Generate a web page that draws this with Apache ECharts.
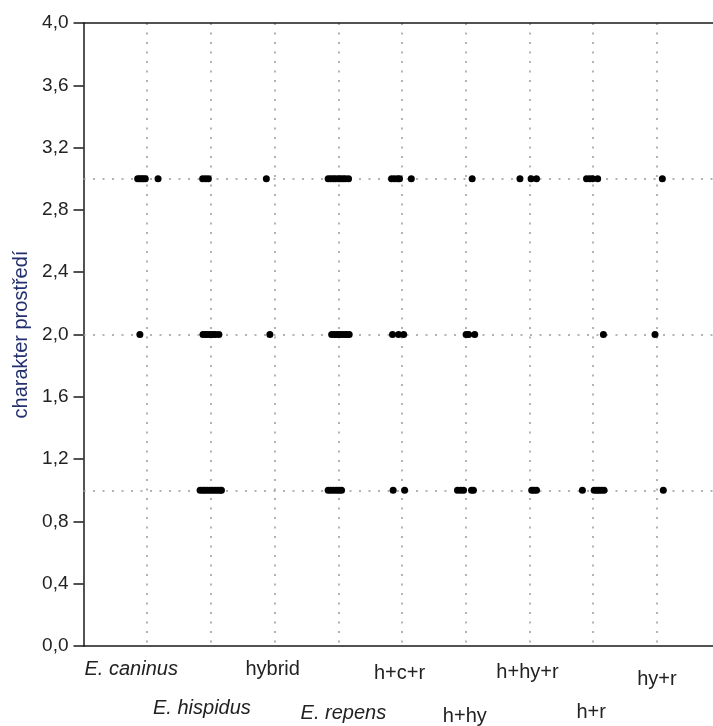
<!DOCTYPE html>
<html>
<head>
<meta charset="utf-8">
<script src="https://cdn.jsdelivr.net/npm/echarts@6/dist/echarts.min.js"></script>
<style>
  html, body { margin: 0; padding: 0; background: #fff; }
  #chart { width: 713px; height: 726px; }
</style>
</head>
<body>
<div id="chart"></div>
<script>
// Groups along the horizontal axis (column 1..9)
const categories = ['E. caninus', 'E. hispidus', 'hybrid', 'E. repens', 'h+c+r', 'h+hy', 'h+hy+r', 'h+r', 'hy+r'];
const italicNames = ['E. caninus', 'E. hispidus', 'E. repens'];

// Habitat character classes (reference lines)
const levels = [1, 2, 3];

// Per group: horizontal spread of the individual observations around the
// group's column, in column widths, for each habitat class.
const spreadAt3 = [
  [-0.15, -0.12, -0.09, -0.06, -0.03, 0.17],
  [-0.13, -0.085, -0.04],
  [-0.13],
  [-0.16, -0.12, -0.08, -0.045, 0, 0.035, 0.075, 0.11, 0.16],
  [-0.165, -0.12, -0.07, -0.04, 0.145],
  [0.10],
  [-0.15, 0.025, 0.11],
  [-0.105, -0.055, -0.01, 0.07],
  [0.085]
];
const spreadAt2 = [
  [-0.115],
  [-0.125, -0.085, -0.045, -0.005, 0.035, 0.07, 0.125],
  [-0.075],
  [-0.105, -0.065, -0.03, 0.01, 0.05, 0.09, 0.13, 0.17],
  [-0.15, -0.055, 0.025],
  [0.005, 0.045, 0.14],
  [],
  [0.16],
  [-0.03]
];
const spreadAt1 = [
  [],
  [-0.17, -0.13, -0.095, -0.055, -0.015, 0.025, 0.065, 0.105, 0.145, 0.165],
  [],
  [-0.16, -0.12, -0.075, -0.03, 0.01, 0.05],
  [-0.14, 0.04],
  [-0.13, -0.08, -0.035, 0.09, 0.12],
  [0.035, 0.07, 0.11],
  [-0.17, 0.015, 0.055, 0.09, 0.13, 0.17],
  [0.10]
];

// Vertical axis scale
const yMin = 0, yMax = 4, yStep = 0.4;
// Horizontal extent: the plot runs a little past the last column, to the page edge
const xMin = 0, xMax = 9.88;

// Build scatter points: column index + spread, habitat class
const spreadByLevel = { 1: spreadAt1, 2: spreadAt2, 3: spreadAt3 };
const points = [];
levels.forEach(function (lv) {
  spreadByLevel[lv].forEach(function (offsets, i) {
    offsets.forEach(function (o) { points.push([i + 1 + o, lv]); });
  });
});

// Staggered category label placement (line height, horizontal nudge)
const labelPlacement = [
  { lh: 42, dx: -16 }, { lh: 120, dx: -9 }, { lh: 42, dx: -2 },
  { lh: 130, dx: 5 },  { lh: 50, dx: -2.5 }, { lh: 136, dx: -1 },
  { lh: 49, dx: -2 },  { lh: 129, dx: -2 },  { lh: 62, dx: 0 }
];
const rich = {};
labelPlacement.forEach(function (p, i) {
  rich['c' + i] = {
    fontSize: 20,
    color: '#222',
    lineHeight: p.lh,
    fontStyle: italicNames.indexOf(categories[i]) >= 0 ? 'italic' : 'normal',
    padding: [0, p.dx < 0 ? -2 * p.dx : 0, 0, p.dx > 0 ? 2 * p.dx : 0]
  };
});

const FONT = "'Liberation Sans', Arial, sans-serif";
const dotted = { color: '#9a9a9a', width: 1.5, type: [2, 7.5] };
const frame = { color: '#1a1a1a', width: 1.5 };

const chart = echarts.init(document.getElementById('chart'), null, { renderer: 'canvas' });
chart.setOption({
  animation: false,
  backgroundColor: '#fff',
  textStyle: { fontFamily: FONT },
  grid: { left: 83.5, top: 23, right: 0, bottom: 78 },
  xAxis: [
    {
      type: 'value',
      position: 'bottom',
      min: xMin, max: xMax, interval: 1,
      axisLine: { show: true, lineStyle: frame },
      axisTick: { show: false },
      splitLine: { show: true, showMinLine: false, showMaxLine: false, lineStyle: dotted },
      axisLabel: {
        margin: 2,
        fontFamily: FONT,
        verticalAlign: 'top',
        showMinLabel: true, showMaxLabel: false,
        formatter: function (v) {
          const i = Math.round(v) - 1;
          if (Math.abs(v - Math.round(v)) > 1e-6 || i < 0 || i >= categories.length) return '';
          return '{c' + i + '|' + categories[i] + '}';
        },
        rich: rich
      }
    },
    {
      // top frame line
      type: 'value',
      position: 'top',
      min: xMin, max: xMax, interval: 1,
      axisLine: { show: true, lineStyle: frame },
      axisTick: { show: false },
      axisLabel: { show: false },
      splitLine: { show: false }
    }
  ],
  yAxis: {
    type: 'value',
    min: yMin, max: yMax, interval: yStep,
    name: 'charakter prostředí',
    nameLocation: 'middle',
    nameGap: 52,
    nameTextStyle: { color: '#24306e', fontSize: 20, fontFamily: FONT },
    axisLine: { show: true, lineStyle: frame },
    axisTick: { show: true, inside: false, length: 10, lineStyle: frame },
    splitLine: { show: false },
    axisLabel: {
      margin: 15,
      fontSize: 19,
      color: '#222',
      fontFamily: FONT,
      formatter: function (v) { return v.toFixed(1).replace('.', ','); }
    }
  },
  series: [
    {
      // horizontal reference lines at the habitat classes
      type: 'scatter',
      data: [],
      z: 1,
      silent: true,
      markLine: {
        z: 1,
        silent: true,
        symbol: 'none',
        label: { show: false },
        lineStyle: dotted,
        data: levels.map(function (lv) { return { yAxis: lv }; })
      }
    },
    {
      type: 'scatter',
      z: 10,
      symbol: 'circle',
      symbolSize: 7,
      itemStyle: { color: '#000', opacity: 1 },
      data: points
    }
  ]
});
</script>
</body>
</html>
